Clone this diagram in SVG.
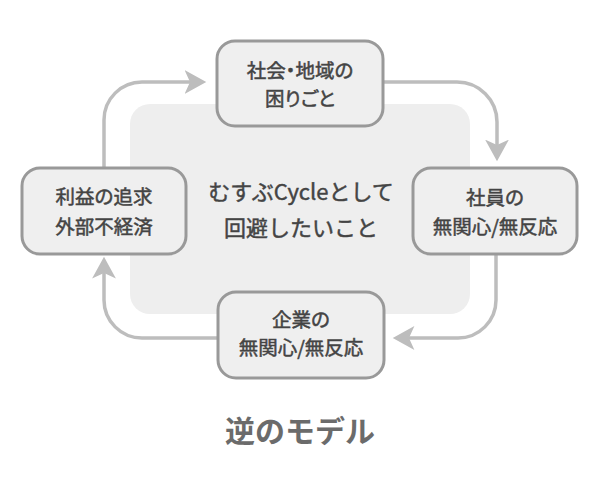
<svg xmlns="http://www.w3.org/2000/svg" width="600" height="500" viewBox="0 0 600 500">
  <style>
    .bg { fill: #eeeeee; }
    .node rect { fill: #efefef; stroke: #999999; stroke-width: 3; }
    .node text { font-family: "Noto Sans CJK JP", "Noto Sans", sans-serif; font-size: 19.5px; font-weight: 400; fill: #444444; stroke: #444444; stroke-width: 0.5; text-anchor: middle; font-feature-settings: "palt"; }
    .center { font-family: "Noto Sans CJK JP", "Noto Sans", sans-serif; font-size: 22px; font-weight: 400; fill: #444444; stroke: #444444; stroke-width: 0.45; text-anchor: middle; }
    .title { font-family: "Noto Sans CJK JP", "Noto Sans", sans-serif; font-size: 30px; font-weight: 700; fill: #6b6b6b; text-anchor: middle; }
    .conn { fill: none; stroke: #bdbdbd; stroke-width: 3.5; marker-end: url(#arr); }
  </style>
  <defs>
    <marker id="arr" markerUnits="userSpaceOnUse" markerWidth="24" markerHeight="26" viewBox="0 -12 22 24" refX="5" refY="0" orient="auto">
      <path d="M0,-11 L20,0 L0,11 L5,0 Z" fill="#bdbdbd"/>
    </marker>
  </defs>

  <rect class="bg" x="130" y="104" width="340" height="210" rx="20" ry="20"/>

  <g id="connectors">
    <path class="conn" d="M104,168 V120 A38,38 0 0 1 142,82 H190"/>
    <path class="conn" d="M383,82 H457 A40,40 0 0 1 497,122 V145"/>
    <path class="conn" d="M496,254 V300 A38,38 0 0 1 458,338 H409"/>
    <path class="conn" d="M218,338 H142 A38,38 0 0 1 104,300 V273"/>
  </g>

  <g id="center-label">
    <text class="center" x="301" y="200">むすぶCycleとして</text>
    <text class="center" x="301" y="236">回避したいこと</text>
  </g>

  <g id="node-top" class="node">
    <rect x="217" y="41" width="166" height="85" rx="18" ry="18"/>
    <text x="300" y="78">社会・地域の</text>
    <text x="300" y="106">困りごと</text>
  </g>

  <g id="node-right" class="node">
    <rect x="413" y="168" width="164" height="86" rx="18" ry="18"/>
    <text x="495" y="205">社員の</text>
    <text x="495" y="234">無関心/無反応</text>
  </g>

  <g id="node-bottom" class="node">
    <rect x="218" y="292" width="166" height="86" rx="18" ry="18"/>
    <text x="301" y="327">企業の</text>
    <text x="301" y="355">無関心/無反応</text>
  </g>

  <g id="node-left" class="node">
    <rect x="22" y="168" width="164" height="86" rx="18" ry="18"/>
    <text x="104" y="204">利益の追求</text>
    <text x="104" y="234">外部不経済</text>
  </g>

  <text class="title" x="300" y="442">逆のモデル</text>
</svg>
